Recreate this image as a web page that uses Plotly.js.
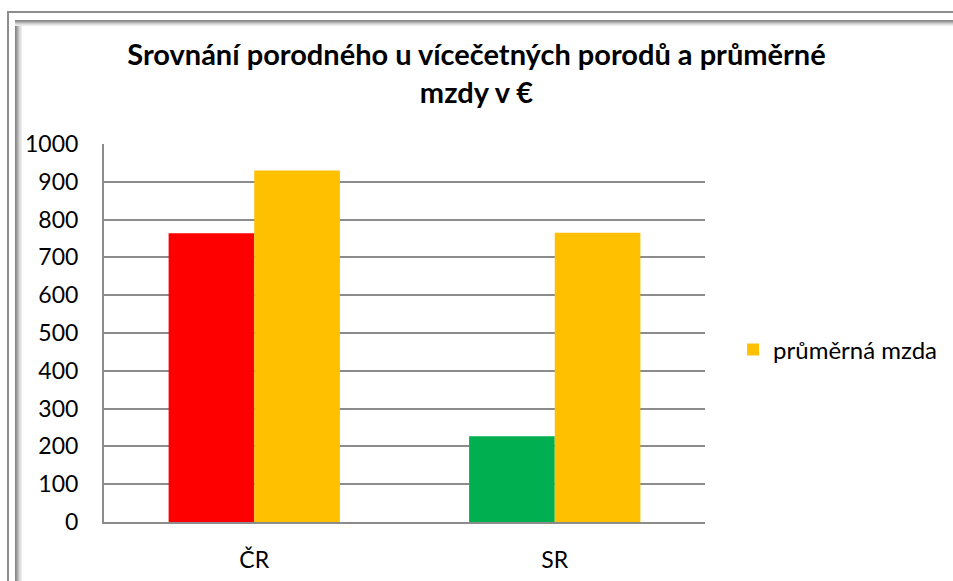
<!DOCTYPE html>
<html>
<head>
<meta charset="utf-8">
<script src="https://cdn.plot.ly/plotly-3.0.1.min.js"></script>
<style>
  html, body { margin:0; padding:0; background:#ffffff; }
  #wrap { position:relative; width:953px; height:581px; overflow:hidden; background:#fff; }
  .f { position:absolute; }
  #chart { position:absolute; left:0; top:0; width:953px; height:581px; }
</style>
</head>
<body>
<div id="wrap">
  <div class="f" style="left:7px; top:11px; width:2px; height:600px; background:#8c8c8c;"></div>
  <div class="f" style="left:7px; top:11px; width:960px; height:2px; background:#8c8c8c;"></div>
  <div class="f" style="left:15px; top:20px; width:7px; height:600px; background:linear-gradient(to right,#7f7f7f,#a6a6a6,#d9d9d9,#f2f2f2);"></div>
  <div class="f" style="left:15px; top:20px; width:960px; height:6px; background:linear-gradient(to bottom,#7f7f7f,#a6a6a6,#d9d9d9,#f2f2f2);"></div>
  <div id="chart"></div>
</div>
<script>
const categories = ['ČR', 'SR'];
const porodneValues = [764, 227];
const porodneColors = ['#FF0000', '#00B050'];
const mzdaValues = [930, 765];
const mzdaName = 'průměrná mzda';
const titleText = 'Srovnání porodného u vícečetných porodů a průměrné<br>mzdy v €';
const yTicks = [0, 100, 200, 300, 400, 500, 600, 700, 800, 900, 1000];

const traces = [
  { type:'bar', x:categories, y:porodneValues, name:'porodné', showlegend:false,
    marker:{ color:porodneColors }, hoverinfo:'x+y' },
  { type:'bar', x:categories, y:mzdaValues, name:mzdaName,
    marker:{ color:'#FFC000' } }
];

const layout = {
  width:953, height:581,
  paper_bgcolor:'rgba(0,0,0,0)', plot_bgcolor:'rgba(0,0,0,0)',
  margin:{ l:104, r:247, t:144, b:59 },
  font:{ family:'Lato, "Open Sans", sans-serif', size:23, color:'#000' },
  title:{ text:titleText, x:0.5, xanchor:'center', y:0.888, yanchor:'top',
          font:{ family:'Lato, sans-serif', size:29, color:'#000', weight:'bold' } },
  barmode:'group', bargap:0.43, bargroupgap:0,
  xaxis:{ showline:true, linecolor:'#8c8c8c', linewidth:2, ticks:'', showgrid:false,
          tickfont:{ size:23 }, ticklabelstandoff:16 },
  yaxis:{ range:[0,1000], tickvals:yTicks, showline:true, linecolor:'#8c8c8c', linewidth:2,
          gridcolor:'#8c8c8c', gridwidth:2, ticks:'', zeroline:false,
          tickfont:{ size:23 }, ticklabelstandoff:19 },
  legend:{ x:1.045, xanchor:'left', y:0.455, yanchor:'middle', font:{ size:24 },
           bgcolor:'rgba(0,0,0,0)' },
  showlegend:true
};

Plotly.newPlot('chart', traces, layout, { displayModeBar:false, staticPlot:true });
</script>
</body>
</html>
